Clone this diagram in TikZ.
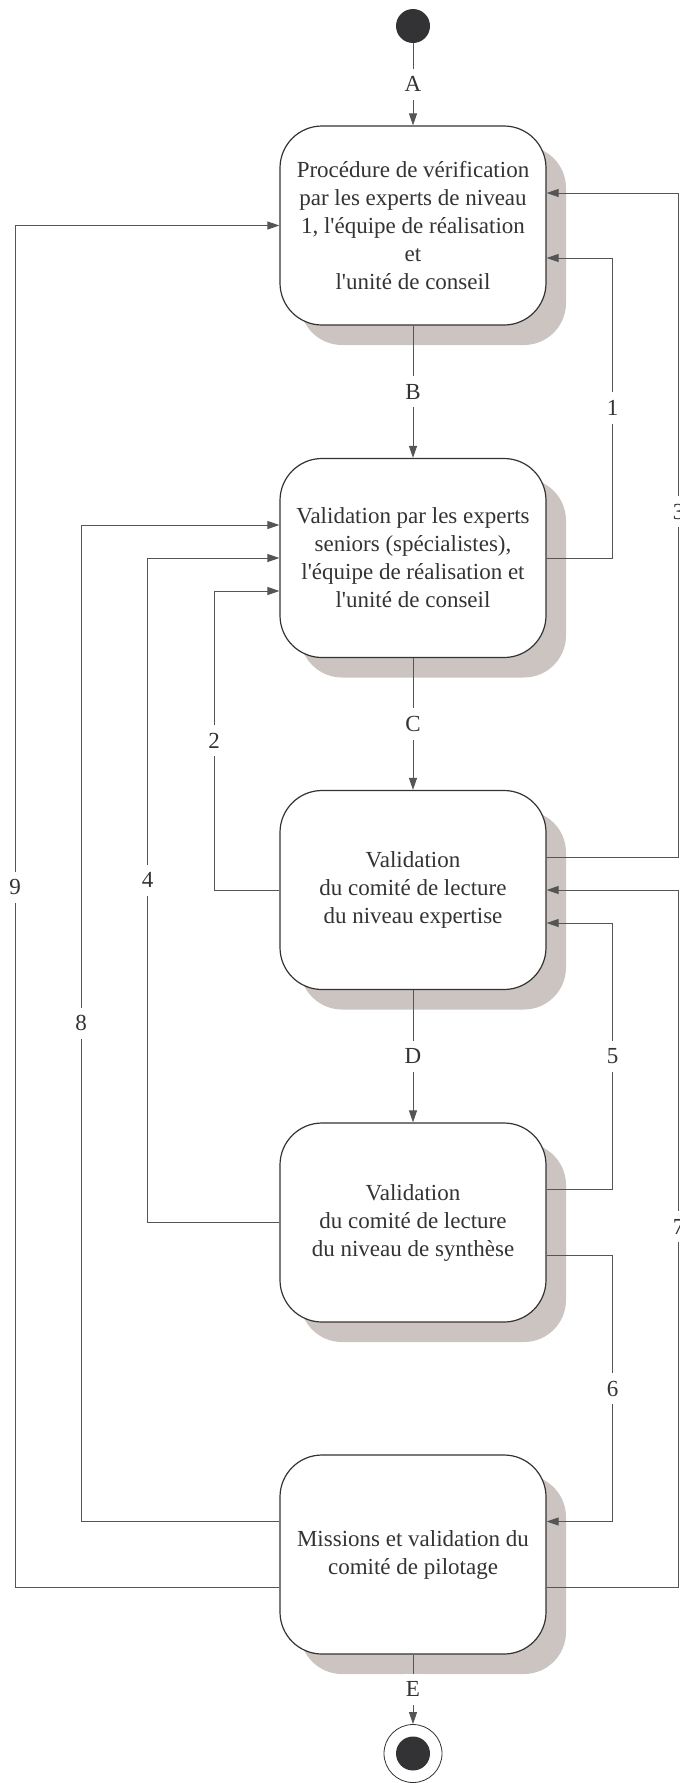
\documentclass[tikz,border=0pt]{standalone}
\usepackage{fontspec}
\newfontfamily\lser{Liberation Serif}
\usetikzlibrary{arrows.meta}
\definecolor{linec}{HTML}{555555}
\definecolor{boxline}{HTML}{333333}
\definecolor{shadowc}{HTML}{CBC4C1}
\definecolor{dotc}{HTML}{333335}
\begin{document}
\begin{tikzpicture}[x=1pt,y=-1pt,
  state/.style={draw=boxline, line width=1.2pt, fill=white, rounded corners=42pt,
    minimum width=266pt, minimum height=199pt, align=center, inner sep=0pt,
    font=\lser\fontsize{23}{28}\selectfont, text=boxline},
  shade/.style={fill=shadowc, rounded corners=42pt, minimum width=266pt,
    minimum height=199pt, inner sep=0pt},
  conn/.style={draw=linec, line width=0.9pt},
  arr/.style={conn, -{Triangle[length=12pt,width=8pt]}},
  lbl/.style={fill=white, font=\lser\fontsize{23}{28}\selectfont, text=boxline,
    inner xsep=2pt, inner ysep=8pt}
]
\useasboundingbox (0,0) rectangle (680,1783);

% shadows
\node[shade] (s1) at (433,245.5) {};
\node[shade] (s2) at (433,578) {};
\node[shade] (s3) at (433,910) {};
\node[shade] (s4) at (433,1242.5) {};
\node[shade] (s5) at (433,1574.5) {};

% states
\node[state] (b1) at (413,225.5) {Procédure de vérification\\par les experts de niveau\\1, l'équipe de réalisation\\et\\l'unité de conseil};
\node[state] (b2) at (413,558) {Validation par les experts\\seniors (spécialistes),\\l'équipe de réalisation et\\l'unité de conseil};
\node[state] (b3) at (413,890) {Validation\\du comité de lecture\\du niveau expertise};
\node[state] (b4) at (413,1222.5) {Validation\\du comité de lecture\\du niveau de synthèse};
\node[state] (b5) at (413,1554.5) {Missions et validation du\\comité de pilotage};

% start / end
\node[circle, fill=dotc, minimum size=34pt, inner sep=0pt] (start) at (413,26) {};
\node[circle, draw=boxline, line width=0.8pt, fill=white, minimum size=58pt, inner sep=0pt] (end) at (413,1753.5) {};
\node[circle, fill=dotc, minimum size=34pt, inner sep=0pt] (endin) at (end.center) {};

% columns
\coordinate (c9) at (15,0);
\coordinate (c8) at (81,0);
\coordinate (c4) at (147.5,0);
\coordinate (c2) at (214,0);
\coordinate (c1) at (612.7,0);
\coordinate (c3) at (678.7,0);

% ports
\coordinate (b1ru) at ([yshift=32.5pt]b1.east);
\coordinate (b1rd) at ([yshift=-32.5pt]b1.east);
\coordinate (b2lu) at ([yshift=33pt]b2.west);
\coordinate (b2ld) at ([yshift=-33pt]b2.west);
\coordinate (b3ru) at ([yshift=33pt]b3.east);
\coordinate (b3rd) at ([yshift=-33pt]b3.east);
\coordinate (b4ru) at ([yshift=33pt]b4.east);
\coordinate (b4rd) at ([yshift=-33pt]b4.east);
\coordinate (b5lu) at ([yshift=33pt]b5.west);
\coordinate (b5ld) at ([yshift=-33pt]b5.west);
\coordinate (b5ru) at ([yshift=33pt]b5.east);
\coordinate (b5rd) at ([yshift=-33pt]b5.east);

% main flow
\draw[arr] (start) -- node[lbl]{A} (b1.north);
\draw[arr] (b1.south) -- node[lbl]{B} (b2.north);
\draw[arr] (b2.south) -- node[lbl]{C} (b3.north);
\draw[arr] (b3.south) -- node[lbl]{D} (b4.north);
\draw[arr] (b5.south) -- node[lbl]{E} (end.north);

% loops
\draw[arr] (b2.east) -- (b2.east -| c1) -- node[lbl]{1} (c1 |- b1rd) -- (b1rd);
\draw[arr] (b3.west) -- (b3.west -| c2) -- node[lbl]{2} (c2 |- b2ld) -- (b2ld);
\draw[arr] (b3ru) -- (b3ru -| c3) -- node[lbl,pos=0.52]{3} (c3 |- b1ru) -- (b1ru);
\draw[arr] (b4.west) -- (b4.west -| c4) -- node[lbl,pos=0.515]{4} (c4 |- b2.west) -- (b2.west);
\draw[arr] (b4ru) -- (b4ru -| c1) -- node[lbl]{5} (c1 |- b3rd) -- (b3rd);
\draw[arr] (b4rd) -- (b4rd -| c1) -- node[lbl]{6} (c1 |- b5ru) -- (b5ru);
\draw[arr] (b5rd) -- (b5rd -| c3) -- node[lbl,pos=0.517]{7} (c3 |- b3.east) -- (b3.east);
\draw[arr] (b5lu) -- (b5lu -| c8) -- node[lbl]{8} (c8 |- b2lu) -- (b2lu);
\draw[arr] (b5ld) -- (b5ld -| c9) -- node[lbl,pos=0.514]{9} (c9 |- b1.west) -- (b1.west);
\end{tikzpicture}
\end{document}
